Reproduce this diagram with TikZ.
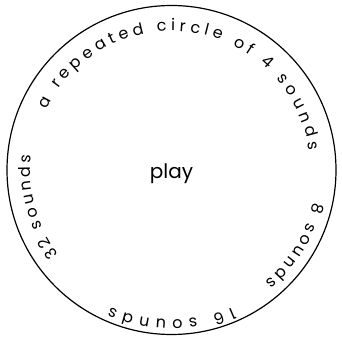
\documentclass[tikz,border=0pt]{standalone}
\usepackage{fontspec}
\setmainfont{Poppins}
\usetikzlibrary{decorations.text}

\newcommand{\ringfont}{\fontsize{16}{19}\selectfont}

\tikzset{
    ringtext/.style={decorate, decoration={text along path,
        text align=fit to path, text={|\ringfont|#1}}}
}

\begin{document}
\begin{tikzpicture}[x=1pt, y=1pt]
    \useasboundingbox (0,0) rectangle (342,338);

    % Centre of the ring
    \coordinate (C) at (171.5,168);
    \draw[line width=1.2pt] (C) circle (164.5);

    % Labels running round the ring (clockwise)
    \path[ringtext={a repeated circle of 4 sounds}]
        ([shift={(154:139)}]C) arc[start angle=154, end angle=8, radius=139];
    \path[ringtext={8 sounds}]
        ([shift={(-13:146)}]C) arc[start angle=-13, end angle=-50, radius=146];
    \path[ringtext={16 sounds}]
        ([shift={(-66:150)}]C) arc[start angle=-66, end angle=-114, radius=150];
    \path[ringtext={32 sounds}]
        ([shift={(217:141)}]C) arc[start angle=217, end angle=174, radius=141];

    % Middle
    \node[font=\fontsize{20}{24}\selectfont] (play) at ([yshift=-4]C) {play};
\end{tikzpicture}
\end{document}
